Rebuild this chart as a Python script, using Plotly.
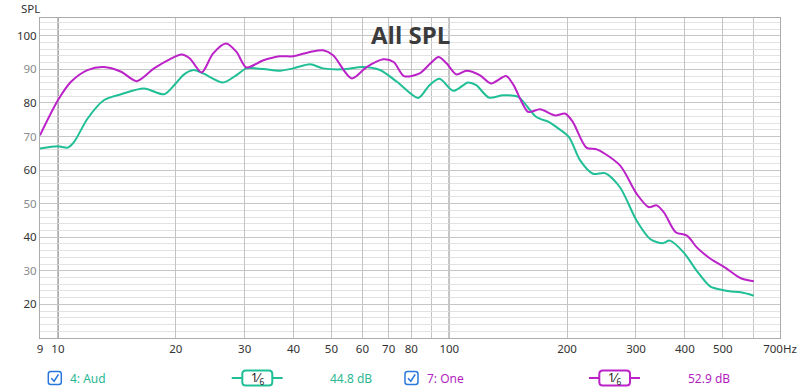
import plotly.graph_objects as go

# ---------------- data ----------------
aud_freq = [9, 10, 10.6, 11, 11.9, 13.1, 14.5, 16.6, 18.7, 20, 20.9, 22.2, 23.5, 26.4, 28.6, 30.3,
            33.5, 36.9, 39.9, 44.1, 47.6, 53.5, 60, 66.5, 73.5, 83.3, 89, 94.5, 102.4, 111.7, 117.2,
            126.3, 137.3, 150, 156, 167, 180, 188, 202, 216, 233, 250, 273, 301, 326, 351, 366,
            397, 429, 465, 499, 520, 556, 600]
aud_spl = [66.4, 67.1, 66.7, 68.4, 75.3, 80.8, 82.6, 84.3, 82.6, 85.8, 88.3, 89.8, 88.8, 86.1, 88.3, 90.3,
           90.1, 89.6, 90.3, 91.5, 90.3, 90.0, 90.7, 89.8, 86.3, 81.5, 85.3, 87.2, 83.6, 86.1, 85.3,
           81.6, 82.3, 81.8, 79.8, 75.8, 74.3, 72.8, 69.9, 62.9, 58.9, 59.1, 54.9, 45.0, 39.5, 38.2, 39.0,
           35.5, 30.0, 25.3, 24.3, 23.9, 23.6, 22.6]

one_freq = [9, 10, 10.8, 11.9, 13.1, 14.5, 15.9, 17.6, 19.3, 20.7, 21.7, 23.3, 24.9, 26.9, 28.6, 30.3,
            33.5, 36.9, 39.9, 44.1, 47.6, 50.5, 56.3, 61.5, 67.9, 72.1, 76.6, 84, 89, 93.9, 98.4,
            104.3, 110.6, 119.6, 127.8, 139.8, 146, 153.1, 159.3, 170.7, 186, 198, 207, 224, 239,
            273, 301, 323, 339, 354, 379, 405, 429, 465, 508, 556, 600]
one_spl = [70.4, 80.8, 86.3, 89.8, 90.7, 89.3, 86.5, 90.3, 93.0, 94.4, 93.3, 89.1, 94.7, 97.7, 95.2, 90.6,
           92.7, 93.9, 93.9, 95.2, 95.7, 94.2, 87.3, 90.7, 93.0, 92.2, 88.0, 88.8, 91.5, 93.7, 91.8,
           88.5, 89.6, 88.3, 85.8, 88.0, 85.3, 80.3, 77.3, 78.1, 76.3, 76.8, 74.3, 66.7, 66.1,
           61.4, 53.0, 49.0, 49.5, 47.3, 41.5, 40.5, 37.0, 33.6, 30.9, 27.8, 26.9]

x_tick_vals = [9, 10, 20, 30, 40, 50, 60, 70, 80, 100, 200, 300, 400, 500, 700]
x_tick_text = ["9", "10", "20", "30", "40", "50", "60", "70", "80", "100", "200", "300", "400", "500", "700Hz"]
x_minor_vals = [90, 600]
x_decade_lines = [10, 100]
y_tick_vals = [20, 30, 40, 50, 60, 70, 80, 90, 100]

series_names = ["4: Aud", "7: One"]
series_levels = ["44.8 dB", "52.9 dB"]
smoothing_label = "1\u2044<sub>6</sub>"

# ---------------- style ----------------
AUD_COLOR = "#20bf96"
ONE_COLOR = "#bb22c8"
AUD_TEXT = "#2cb894"
ONE_TEXT = "#b11fc0"
CHECK_BLUE = "#2b78dc"
FONT = "Noto Sans"

W, H = 800, 389
L, R, T, B = 40, 20, 18, 51
PW, PH = W - L - R, H - T - B


def px(x):
    return (x - L) / PW


def py(y):
    return (H - B - y) / PH


def pt(x, y):
    return f"{px(x):.5f},{py(y):.5f}"


def rrect(x0, y0, x1, y1, r):
    return (f"M {pt(x0 + r, y0)} L {pt(x1 - r, y0)} Q {pt(x1, y0)} {pt(x1, y0 + r)} "
            f"L {pt(x1, y1 - r)} Q {pt(x1, y1)} {pt(x1 - r, y1)} L {pt(x0 + r, y1)} "
            f"Q {pt(x0, y1)} {pt(x0, y1 - r)} L {pt(x0, y0 + r)} Q {pt(x0, y0)} {pt(x0 + r, y0)} Z")


y_tick_text = []
for v in y_tick_vals:
    if v % 20 == 0:
        y_tick_text.append(str(v))
    else:
        y_tick_text.append(f"<span style='color:#8a8a8a'>{v}</span>")

fig = go.Figure()
fig.add_trace(go.Scatter(x=aud_freq, y=aud_spl, mode="lines", name=series_names[0],
                         line=dict(color=AUD_COLOR, width=2, shape="spline", smoothing=0.8)))
fig.add_trace(go.Scatter(x=one_freq, y=one_spl, mode="lines", name=series_names[1],
                         line=dict(color=ONE_COLOR, width=2, shape="spline", smoothing=0.8)))

shapes = []
for v in x_decade_lines:
    shapes.append(dict(type="line", xref="x", yref="paper", x0=v, x1=v, y0=0, y1=1,
                       line=dict(color="#5a5a5a", width=1.2), layer="between"))

annotations = [
    dict(text="<b>All SPL</b>", xref="paper", yref="paper", x=0.5, y=py(34),
         xanchor="center", yanchor="middle", showarrow=False,
         font=dict(family="Open Sans", size=24, color="#3b3b3b")),
    dict(text="SPL", xref="paper", yref="paper", x=px(19), y=py(8),
         xanchor="left", yanchor="middle", showarrow=False,
         font=dict(family=FONT, size=11.5, color="#333333")),
]

legend_y = 378
legend_items = [
    dict(cb=48.3, name_x=68, line=(231.7, 282.7), box=(242.3, 272.3), lvl_x=328,
         color=AUD_COLOR, tcolor=AUD_TEXT, name=series_names[0], lvl=series_levels[0]),
    dict(cb=405, name_x=425, line=(589, 640), box=(599.3, 630), lvl_x=686,
         color=ONE_COLOR, tcolor=ONE_TEXT, name=series_names[1], lvl=series_levels[1]),
]
for it in legend_items:
    c = it["cb"]
    shapes.append(dict(type="path", xref="paper", yref="paper",
                       path=rrect(c, legend_y - 6.5, c + 13, legend_y + 6.5, 2.5),
                       line=dict(color=CHECK_BLUE, width=1.5), fillcolor="white"))
    shapes.append(dict(type="path", xref="paper", yref="paper",
                       path=f"M {pt(c + 3, legend_y + 0.2)} L {pt(c + 5.8, legend_y + 3.2)} L {pt(c + 10.2, legend_y - 3.6)}",
                       line=dict(color=CHECK_BLUE, width=1.6)))
    annotations.append(dict(text=it["name"], xref="paper", yref="paper", x=px(it["name_x"]), y=py(legend_y),
                            xanchor="left", yanchor="middle", showarrow=False,
                            font=dict(family=FONT, size=12, color=it["tcolor"])))
    l0, l1 = it["line"]
    b0, b1 = it["box"]
    shapes.append(dict(type="line", xref="paper", yref="paper", x0=px(l0), x1=px(l1),
                       y0=py(legend_y), y1=py(legend_y), line=dict(color=it["color"], width=2)))
    shapes.append(dict(type="path", xref="paper", yref="paper",
                       path=rrect(b0, legend_y - 7.5, b1, legend_y + 7.5, 3.5),
                       line=dict(color=it["color"], width=2), fillcolor="white"))
    annotations.append(dict(text=smoothing_label, xref="paper", yref="paper", x=px((b0 + b1) / 2),
                            y=py(legend_y), xanchor="center", yanchor="middle", showarrow=False,
                            font=dict(family=FONT, size=12, color="#222222")))
    annotations.append(dict(text=it["lvl"], xref="paper", yref="paper", x=px(it["lvl_x"]), y=py(legend_y),
                            xanchor="left", yanchor="middle", showarrow=False,
                            font=dict(family=FONT, size=12, color=it["tcolor"])))

fig.update_layout(
    width=W, height=H,
    margin=dict(l=L, r=R, t=T, b=B, pad=0),
    paper_bgcolor="white", plot_bgcolor="white",
    showlegend=False,
    shapes=shapes, annotations=annotations,
    font=dict(family=FONT, size=11.5, color="#333333"),
    xaxis=dict(type="log", range=[0.95424, 2.8451], tickmode="array",
               tickvals=x_tick_vals, ticktext=x_tick_text, automargin=False,
               showgrid=True, gridcolor="#c4c4c4", gridwidth=1,
               minor=dict(tickmode="array", tickvals=x_minor_vals, showgrid=True,
                          gridcolor="#c4c4c4", gridwidth=1),
               showline=True, mirror=True, linecolor="#ababab", linewidth=1,
               ticks="", zeroline=False, tickfont=dict(size=11.5, color="#333333")),
    yaxis=dict(range=[10, 105.3], tickmode="array", tickvals=y_tick_vals, ticktext=y_tick_text,
               automargin=False,
               showgrid=True, gridcolor="#c6c6c6", gridwidth=1,
               minor=dict(dtick=2, tick0=0, showgrid=True, gridcolor="#e2e2e2", gridwidth=1),
               showline=True, mirror=True, linecolor="#ababab", linewidth=1,
               ticks="", zeroline=False, tickfont=dict(size=11.5, color="#333333")),
)

fig.write_html(
    "out.html",
    config={"displayModeBar": False},
    post_script="document.body.style.margin='0';document.body.style.padding='0';"
                "document.documentElement.style.overflow='hidden';",
)
